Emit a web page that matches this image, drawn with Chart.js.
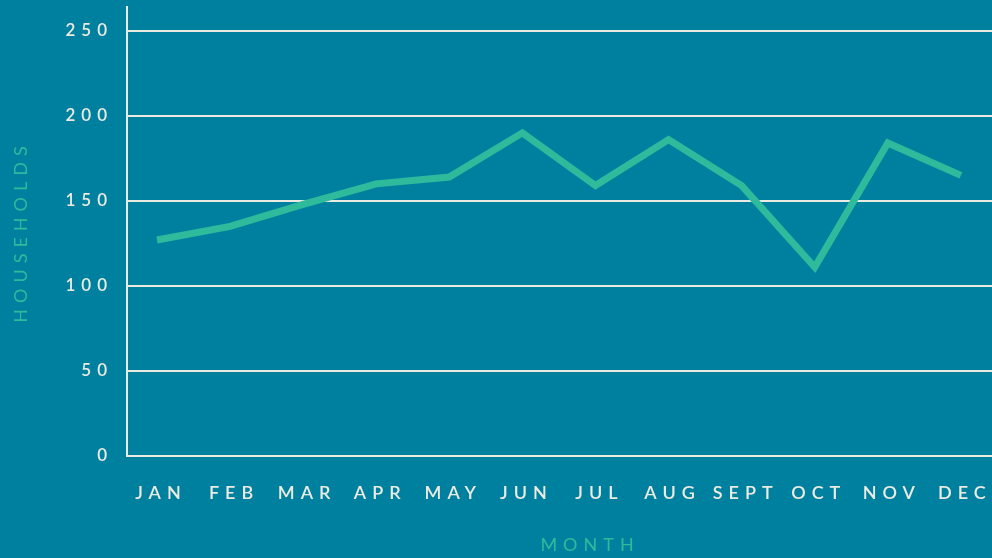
<!DOCTYPE html>
<html>
<head>
<meta charset="utf-8">
<script src="https://cdn.jsdelivr.net/npm/chart.js@4.4.0/dist/chart.umd.min.js"></script>
<style>
	html, body { margin: 0; padding: 0; background: #00809f; overflow: hidden; }
	#wrap { width: 1060px; height: 558px; position: relative; }
</style>
</head>
<body>
<div id="wrap"><canvas id="myChart"></canvas></div>
<script>
var months = ['JAN', 'FEB', 'MAR', 'APR', 'MAY', 'JUN', 'JUL', 'AUG', 'SEPT', 'OCT', 'NOV', 'DEC'];
var households = [127, 135, 148, 160, 164, 190, 159, 186, 159, 111, 184, 165];
var yTicks = [0, 50, 100, 150, 200, 250];

var textColor = '#ecebe1';
var lineColor = '#2ebb9c';

// canvas text has no letter-spacing option in Chart.js, so set it on the context
var spacing = {
	id: 'spacing',
	beforeUpdate: function(chart) { chart.ctx.letterSpacing = '6px'; },
	beforeDraw: function(chart) { chart.ctx.letterSpacing = '6px'; }
};

var points = households.map(function(v, i) { return { x: i, y: v }; });

var ctx = document.getElementById('myChart');
var myChart = new Chart(ctx, {
	type: 'line',
	data: {
		datasets: [{
			label: 'Households',
			data: points,
			borderColor: lineColor,
			borderWidth: 7,
			pointRadius: 0,
			tension: 0,
			fill: false
		}]
	},
	options: {
		responsive: true,
		maintainAspectRatio: false,
		animation: false,
		layout: { padding: { top: 7, right: 7, left: 0, bottom: 0 } },
		plugins: { legend: { display: false }, tooltip: { enabled: false } },
		scales: {
			x: {
				type: 'linear',
				min: -0.41,
				max: 12.26,
				afterBuildTicks: function(scale) {
					scale.ticks = months.map(function(m, i) { return { value: i }; });
				},
				afterFit: function(scale) {
					scale.height = 102;
					scale.paddingLeft = 0;
					scale.paddingRight = 0;
				},
				ticks: {
					color: textColor,
					font: { family: 'Lato', size: 18, weight: '600' },
					padding: 26,
					labelOffset: 4,
					autoSkip: false,
					maxRotation: 0,
					callback: function(value) { return months[value]; }
				},
				grid: { display: false, drawTicks: false },
				border: { display: true, color: textColor, width: 2 },
				title: {
					display: true,
					text: 'MONTH',
					color: lineColor,
					font: { family: 'Lato', size: 18 },
					padding: { top: 3, bottom: 2 }
				}
			},
			y: {
				min: 0,
				max: 264,
				afterBuildTicks: function(scale) {
					scale.ticks = yTicks.map(function(v) { return { value: v }; });
				},
				afterFit: function(scale) {
					scale.width = 127;
					scale.paddingTop = 0;
					scale.paddingBottom = 0;
				},
				ticks: {
					color: textColor,
					font: { family: 'Lato', size: 17, weight: '600' },
					padding: 14
				},
				grid: { color: textColor, lineWidth: 2, drawTicks: false },
				border: { display: true, color: textColor, width: 2 },
				title: {
					display: true,
					text: 'HOUSEHOLDS',
					color: lineColor,
					font: { family: 'Lato', size: 18 },
					padding: { top: 10, bottom: 10 }
				}
			}
		}
	},
	plugins: [spacing]
});
</script>
</body>
</html>
